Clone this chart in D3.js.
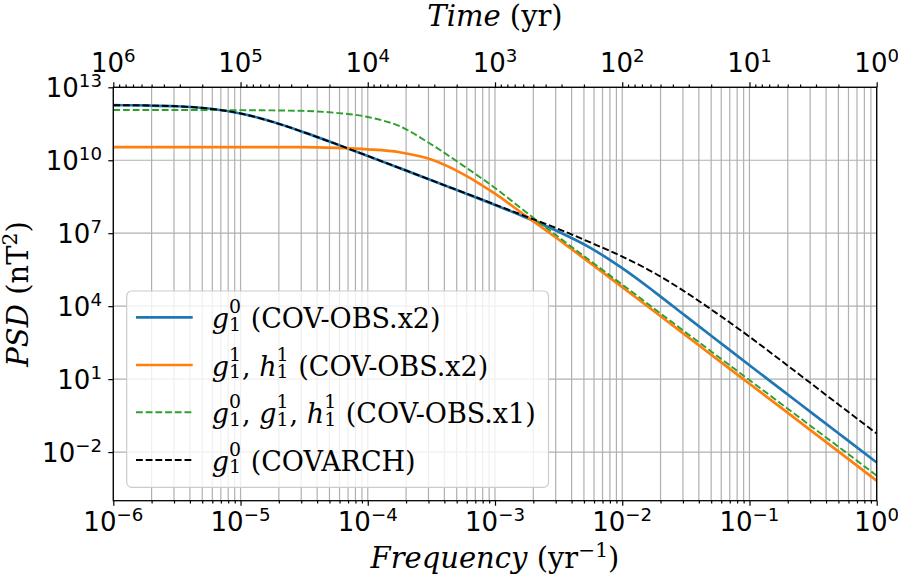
<!DOCTYPE html>
<html><head><meta charset="utf-8">
<script src="https://cdn.jsdelivr.net/npm/d3@7"></script>
<style>body{margin:0;background:#fff} svg{display:block}</style>
</head><body><svg id="c" width="898" height="582"></svg>
<script>
// ---------- data ----------
const frequency = [1e-6, 1.78e-6, 3.16e-6, 5.62e-6, 1e-5, 1.78e-5, 3.16e-5, 5.62e-5,
  1e-4, 1.78e-4, 3.16e-4, 5.62e-4, 1e-3, 1.78e-3, 3.16e-3, 5.62e-3,
  1e-2, 1.78e-2, 3.16e-2, 5.62e-2, 1e-1, 1.78e-1, 3.16e-1, 5.62e-1, 1];
const psdG10x2 = [1.84e12, 1.79e12, 1.66e12, 1.34e12, 8.36e11, 3.81e11, 1.40e11, 4.67e10,
  1.50e10, 4.76e9, 1.51e9, 4.72e8, 1.46e8, 4.24e7, 1.15e7, 2.51e6,
  3.63e5, 3.98e4, 3.89e3, 380, 37.2, 3.72, 0.372, 0.0372, 0.00372];
const psdG11H11x2 = [3.47e10, 3.47e10, 3.47e10, 3.47e10, 3.47e10, 3.47e10, 3.47e10, 3.24e10,
  2.82e10, 2.14e10, 1.07e10, 2.70e9, 4.20e8, 4.79e7, 5.50e6, 5.89e5,
  6.03e4, 6.17e3, 631, 63.1, 6.46, 0.661, 0.0661, 0.00661, 6.61e-4];
const psdAllx1 = [1.17e12, 1.17e12, 1.17e12, 1.16e12, 1.15e12, 1.12e12, 1.07e12, 8.91e11,
  6.03e11, 2.51e11, 4.47e10, 6.03e9, 7.24e8, 6.92e7, 6.92e6, 7.24e5,
  7.76e4, 7.94e3, 832, 87.1, 9.12, 0.955, 0.1, 0.0105, 1.07e-3];
const psdCovarch = [1.84e12, 1.79e12, 1.66e12, 1.34e12, 8.36e11, 3.81e11, 1.40e11, 4.67e10,
  1.50e10, 4.78e9, 1.51e9, 4.79e8, 1.51e8, 4.74e7, 1.48e7, 4.17e6,
  1.10e6, 2.34e5, 3.72e4, 4.79e3, 555, 56.9, 5.73, 0.573, 0.0575];
const freqTicks = [1e-6, 1e-5, 1e-4, 1e-3, 1e-2, 1e-1, 1];
const timeTicks = [1e6, 1e5, 1e4, 1e3, 1e2, 1e1, 1];
const psdTicks = [1e-2, 1e1, 1e4, 1e7, 1e10, 1e13];
const seriesNames = [
  [{t:'g',it:true},{ss:['0','1']},{t:'\u00a0(COV-OBS.x2)'}],
  [{t:'g',it:true},{ss:['1','1']},{t:',\u00a0'},{t:'h',it:true},{ss:['1','1']},{t:'\u00a0(COV-OBS.x2)'}],
  [{t:'g',it:true},{ss:['0','1']},{t:',\u00a0'},{t:'g',it:true},{ss:['1','1']},{t:',\u00a0'},{t:'h',it:true},{ss:['1','1']},{t:'\u00a0(COV-OBS.x1)'}],
  [{t:'g',it:true},{ss:['0','1']},{t:'\u00a0(COVARCH)'}]
];

// ---------- layout ----------
const svg = d3.select('#c');
const L = 113.3, R = 876.7, T = 87.3, B = 500.7;
const x = d3.scaleLog().domain([1e-6, 1]).range([L, R]);
const xt = d3.scaleLog().domain([1e6, 1]).range([L, R]);
const y = d3.scaleLog().domain([1e-4, 1e13]).range([B, T]);
const SANS = 'DejaVu Sans', SERIF = 'DejaVu Serif';

function measure(txt, fam, size, it) {
  const t = svg.append('text').attr('font-family', fam).attr('font-size', size)
    .attr('font-style', it ? 'italic' : 'normal').text(txt);
  const w = t.node().getComputedTextLength(); t.remove(); return w;
}
function put(g, txt, px, py, size, fam, it) {
  const t = g.append('text').attr('x', px).attr('y', py).attr('font-family', fam)
    .attr('font-size', size).attr('font-style', it ? 'italic' : 'normal').attr('fill', '#000').text(txt);
  return t.node().getComputedTextLength();
}
function rich(parent, parts, o) {
  const outer = parent.append('g').attr('transform', `translate(${o.x},${o.y})` + (o.rot ? ` rotate(${o.rot})` : ''));
  const g = outer.append('g');
  const s = o.size, ss = s * 0.7;
  let cx = 0;
  parts.forEach(p => {
    if (p.ss) {
      const w1 = put(g, p.ss[0], cx, -0.56 * s, ss, o.fam, false);
      const w2 = put(g, p.ss[1], cx, 0.09 * s, ss, o.fam, false);
      cx += Math.max(w1, w2) + 0.04 * s;
    } else if (p.sup) {
      cx += put(g, p.sup, cx, -0.38 * s, ss, o.fam, false);
    } else {
      cx += put(g, p.t, cx, 0, s, o.fam, p.it);
    }
  });
  const shift = o.anchor === 'middle' ? -cx / 2 : o.anchor === 'end' ? -cx : 0;
  g.attr('transform', `translate(${shift},0)`);
  return cx;
}

// grid
const minorF = [];
freqTicks.slice(0, -1).forEach(d => { for (let m = 2; m <= 9; m++) minorF.push(m * d); });
const gridG = svg.append('g').attr('stroke', '#b0b0b0').attr('stroke-width', 1.2);
freqTicks.concat(minorF).forEach(f => gridG.append('line')
  .attr('x1', x(f)).attr('x2', x(f)).attr('y1', T).attr('y2', B));
psdTicks.forEach(v => gridG.append('line')
  .attr('x1', L).attr('x2', R).attr('y1', y(v)).attr('y2', y(v)));

// lines
const series = [
  {v: psdG10x2, c: '#1f77b4', w: 2.7, d: null},
  {v: psdG11H11x2, c: '#ff7f0e', w: 2.7, d: null},
  {v: psdAllx1, c: '#2ca02c', w: 1.9, d: '6.8,2.9'},
  {v: psdCovarch, c: '#000000', w: 1.9, d: '6.8,2.9'}
];
const line = d3.line().x(d => x(d[0])).y(d => y(d[1])).curve(d3.curveMonotoneX);
series.forEach(s => {
  svg.append('path').datum(frequency.map((f, i) => [f, s.v[i]]))
    .attr('d', line).attr('fill', 'none').attr('stroke', s.c).attr('stroke-width', s.w)
    .attr('stroke-dasharray', s.d);
});

// frame
svg.append('rect').attr('x', L).attr('y', T).attr('width', R - L).attr('height', B - T)
  .attr('fill', 'none').attr('stroke', '#000').attr('stroke-width', 1.3);

// axes ticks
function styleAxis(g) { g.select('.domain').remove(); g.selectAll('line').attr('stroke', '#000').attr('stroke-width', 1.2); }
svg.append('g').attr('transform', `translate(0,${B})`)
  .call(d3.axisBottom(x).tickValues(freqTicks).tickSize(5).tickFormat('')).call(styleAxis);
svg.append('g').attr('transform', `translate(0,${B})`)
  .call(d3.axisBottom(x).tickValues(minorF).tickSize(2.8).tickFormat('')).call(styleAxis);
const minorT = [];
timeTicks.slice(0, -1).forEach(d => { for (let m = 2; m <= 9; m++) minorT.push(m * d / 10); });
svg.append('g').attr('transform', `translate(0,${T})`)
  .call(d3.axisTop(xt).tickValues(timeTicks).tickSize(5).tickFormat('')).call(styleAxis);
svg.append('g').attr('transform', `translate(0,${T})`)
  .call(d3.axisTop(xt).tickValues(minorT).tickSize(2.8).tickFormat('')).call(styleAxis);
svg.append('g').attr('transform', `translate(${L},0)`)
  .call(d3.axisLeft(y).tickValues(psdTicks).tickSize(5).tickFormat('')).call(styleAxis);

// tick labels
const TS = 26;
const expParts = v => { const e = Math.round(Math.log10(v)); return [{t:'10'}, {sup: (e < 0 ? '\u2212' : '') + Math.abs(e)}]; };
freqTicks.forEach(f => rich(svg, expParts(f), {x: x(f), y: 531, size: TS, fam: SANS, anchor: 'middle'}));
timeTicks.forEach(t => rich(svg, expParts(t), {x: xt(t), y: 71.5, size: TS, fam: SANS, anchor: 'middle'}));
psdTicks.forEach(v => rich(svg, expParts(v), {x: 102, y: y(v) + 10, size: TS, fam: SANS, anchor: 'end'}));

// axis labels
const xLabel = [{t:'Frequency', it:true}, {t:'\u00a0(yr'}, {sup:'\u22121'}, {t:')'}];
const tLabel = [{t:'Time', it:true}, {t:'\u00a0(yr)'}];
const yLabel = [{t:'PSD', it:true}, {t:'\u00a0(nT'}, {sup:'2'}, {t:')'}];
const LS = 29;
const cxMid = (L + R) / 2;
rich(svg, xLabel, {x: cxMid, y: 568, size: LS, fam: SERIF, anchor: 'middle'});
rich(svg, tLabel, {x: cxMid, y: 26, size: LS, fam: SERIF, anchor: 'middle'});
rich(svg, yLabel, {x: 28, y: (T + B) / 2, size: LS, fam: SERIF, anchor: 'middle', rot: -90});

// legend
const lg = svg.append('g');
lg.append('rect').attr('x', 126.7).attr('y', 291).attr('width', 548.5 - 126.7).attr('height', 487.3 - 291)
  .attr('rx', 5).attr('fill', '#fff').attr('fill-opacity', 0.8).attr('stroke', '#cccccc').attr('stroke-width', 1.2);
const legSize = 100 * 190 / measure('(COV-OBS.x2)', SERIF, 100, false);
const rowY = [317.3, 365, 412.3, 460];
series.forEach((s, i) => {
  lg.append('line').attr('x1', 136).attr('x2', 192.7).attr('y1', rowY[i]).attr('y2', rowY[i])
    .attr('stroke', s.c).attr('stroke-width', s.w).attr('stroke-dasharray', s.d);
  rich(lg, seriesNames[i], {x: 211.7, y: rowY[i] + 11, size: legSize, fam: SERIF, anchor: 'start'});
});
</script></body></html>
